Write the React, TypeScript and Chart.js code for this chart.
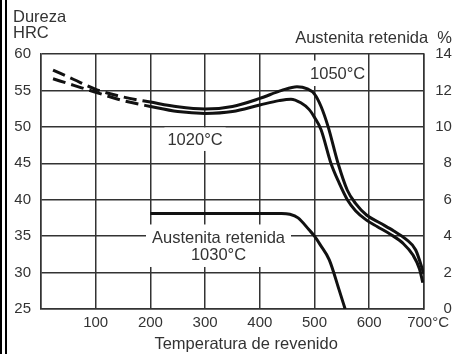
import React, { useEffect, useRef } from 'react';
import { Chart, registerables } from 'chart.js';

Chart.register(...registerables);

// ---- data ----
const temp1050 = [22, 60, 100, 150, 200, 250, 300, 350, 400, 440, 468, 487, 500, 512, 525, 543, 560, 575, 595, 620, 645, 667, 685, 700];
const hrc1050 = [57.8, 56.5, 55.15, 54.1, 53.4, 52.75, 52.45, 52.8, 53.9, 55.0, 55.5, 55.2, 54.5, 52.8, 50.0, 45.0, 41.3, 39.5, 37.9, 36.8, 35.7, 34.6, 33.1, 29.8];

const temp1020 = [22, 60, 100, 150, 200, 250, 300, 350, 400, 435, 457, 475, 490, 500, 512, 530, 545, 560, 575, 595, 615, 640, 662, 680, 692, 698];
const hrc1020 = [56.6, 55.7, 54.75, 53.6, 52.8, 52.1, 51.85, 52.1, 53.0, 53.6, 53.8, 53.3, 52.4, 51.3, 49.6, 45.0, 42.3, 40.0, 38.5, 37.2, 36.3, 35.2, 34.0, 32.4, 30.5, 28.6];

const tempAust = [200, 300, 400, 440, 455, 470, 490, 500, 510, 527, 545, 556];
const austPct = [5.25, 5.25, 5.25, 5.25, 5.2, 5.0, 4.35, 4.0, 3.55, 2.7, 1.05, 0];

const dashedUpTo = 200; // hardness curves are dashed below this temperature

const leftTitle = ['Dureza', 'HRC'];
const rightTitle = 'Austenita retenida  %';
const xTitle = 'Temperatura de revenido';

// curve labels, anchored in data coordinates (x: °C, y: HRC)
const curveLabels = [
  { lines: ['1020°C'], x: 281.6, y: 48.27, padX: 3, padY: 6 },
  { lines: ['1050°C'], x: 542.3, y: 57.32, padX: 2, padY: 7 },
  { lines: ['Austenita retenida', '1030°C'], x: 324.5, y: 33.65, padX: 6, padY: 7 },
];

const FONT = "'Liberation Sans', Arial, Helvetica, sans-serif";
const TEXT = '#333';
const GRID = '#333';
const LINE = '#111';

const zip = (xs: number[], ys: number[]) => xs.map((x, i) => ({ x, y: ys[i] }));

const decorPlugin = {
  id: 'decor',
  beforeDraw(chart: any) {
    const { ctx, width, height } = chart;
    ctx.save();
    ctx.fillStyle = '#fff';
    ctx.fillRect(0, 0, width, height);
    ctx.fillStyle = '#000';
    ctx.fillRect(0, 0, 2, height);
    ctx.fillRect(5, 0, 2, height);
    ctx.restore();
  },
  beforeDatasetsDraw(chart: any) {
    const { ctx } = chart;
    const xs = chart.scales.x;
    const ys = chart.scales.y;
    ctx.save();
    ctx.font = `16.5px ${FONT}`;
    ctx.textAlign = 'center';
    ctx.textBaseline = 'alphabetic';
    const lh = 17;
    for (const lab of curveLabels) {
      const cx = xs.getPixelForValue(lab.x);
      const cy = ys.getPixelForValue(lab.y);
      const n = lab.lines.length;
      const firstBase = cy - ((n - 1) * lh) / 2 + 5.5;
      const w = Math.max(...lab.lines.map((l) => ctx.measureText(l).width));
      const top = firstBase - 11.5 - lab.padY;
      const bottom = firstBase + (n - 1) * lh + lab.padY;
      ctx.fillStyle = '#fff';
      ctx.fillRect(cx - w / 2 - lab.padX, top, w + 2 * lab.padX, bottom - top);
      ctx.fillStyle = TEXT;
      lab.lines.forEach((l, i) => ctx.fillText(l, cx, firstBase + i * lh));
    }
    ctx.restore();
  },
  afterDraw(chart: any) {
    const { ctx } = chart;
    const xs = chart.scales.x;
    ctx.save();
    ctx.fillStyle = TEXT;
    ctx.font = `16.5px ${FONT}`;
    ctx.textBaseline = 'alphabetic';
    ctx.textAlign = 'left';
    ctx.fillText(leftTitle[0], 13, 21.5);
    ctx.fillText(leftTitle[1], 13, 37.7);
    ctx.textAlign = 'right';
    ctx.fillText(rightTitle, 452, 43.3);
    ctx.textAlign = 'center';
    ctx.fillText(xTitle, xs.getPixelForValue(375), 349);
    ctx.restore();
  },
};

export default function App() {
  const ref = useRef<HTMLCanvasElement>(null);

  useEffect(() => {
    if (!ref.current) return;
    const dashSeg = (ctx: any) => (ctx.p1.parsed.x <= dashedUpTo ? [13, 6] : undefined);
    const tickFont = { family: FONT, size: 15 };
    const chart = new Chart(ref.current, {
      type: 'line',
      data: {
        datasets: [
          {
            label: '1050°C',
            data: zip(temp1050, hrc1050),
            yAxisID: 'y',
            borderColor: LINE,
            borderWidth: 3,
            pointRadius: 0,
            cubicInterpolationMode: 'monotone',
            borderCapStyle: 'butt',
            segment: { borderDash: dashSeg },
          },
          {
            label: '1020°C',
            data: zip(temp1020, hrc1020),
            yAxisID: 'y',
            borderColor: LINE,
            borderWidth: 3,
            pointRadius: 0,
            cubicInterpolationMode: 'monotone',
            borderCapStyle: 'butt',
            segment: { borderDash: dashSeg },
          },
          {
            label: 'Austenita retenida 1030°C',
            data: zip(tempAust, austPct),
            yAxisID: 'y2',
            borderColor: LINE,
            borderWidth: 3,
            pointRadius: 0,
            cubicInterpolationMode: 'monotone',
          },
        ],
      },
      options: {
        responsive: false,
        animation: false,
        devicePixelRatio: 1,
        layout: { padding: { top: 54, left: 0, right: 1, bottom: 0 } },
        plugins: { legend: { display: false }, tooltip: { enabled: false }, title: { display: false } },
        scales: {
          x: {
            type: 'linear',
            min: 0,
            max: 700,
            ticks: {
              stepSize: 100,
              autoSkip: false,
              maxRotation: 0,
              padding: 5,
              color: TEXT,
              font: tickFont,
              callback: (v: any) => (v === 0 ? '' : v === 700 ? '  700°C' : String(v)),
            },
            grid: { color: GRID, lineWidth: 1.5, drawTicks: false },
            border: { color: GRID, width: 1.5 },
            afterFit: (s: any) => { s.height = 45; },
          },
          y: {
            type: 'linear',
            position: 'left',
            min: 25,
            max: 60,
            ticks: { stepSize: 5, padding: 10, color: TEXT, font: tickFont },
            grid: { color: GRID, lineWidth: 1.5, drawTicks: false },
            border: { color: GRID, width: 1.5 },
            afterFit: (s: any) => { s.width = 41; },
          },
          y2: {
            type: 'linear',
            position: 'right',
            min: 0,
            max: 14,
            ticks: { stepSize: 2, padding: 10, crossAlign: 'far', color: TEXT, font: tickFont },
            grid: { display: false, drawTicks: false },
            border: { color: GRID, width: 1.5 },
            afterFit: (s: any) => { s.width = 28; },
          },
        },
      },
      plugins: [decorPlugin],
    } as any);
    return () => chart.destroy();
  }, []);

  return (
    <div style={{ position: 'fixed', left: 0, top: 0, width: 454, height: 354, background: '#fff' }}>
      <canvas ref={ref} width={454} height={354} style={{ display: 'block', width: 454, height: 354 }} />
    </div>
  );
}
